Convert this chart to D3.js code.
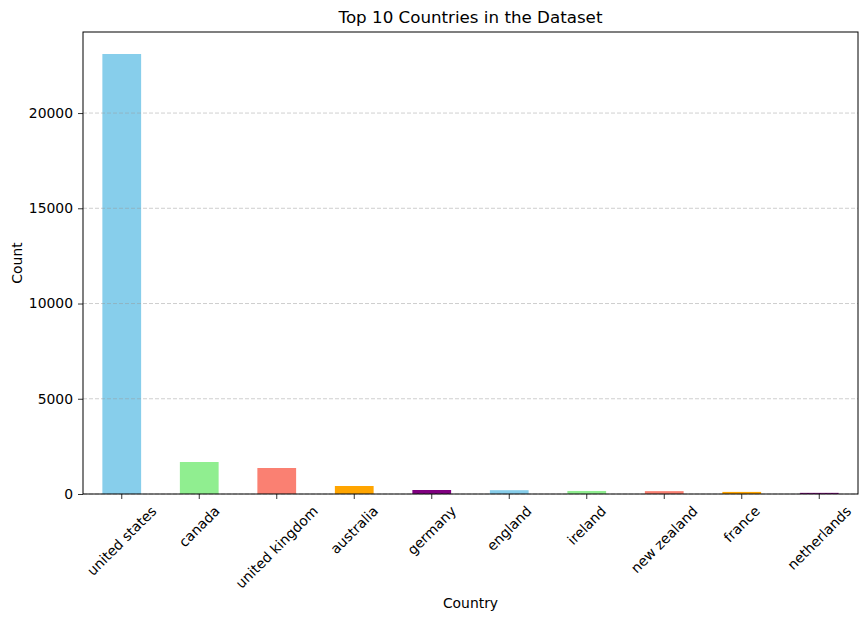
<!DOCTYPE html>
<html>
<head>
<meta charset="utf-8">
<script src="https://cdn.jsdelivr.net/npm/d3@7"></script>
<style>
  body { margin: 0; background: #fff; }
  text { font-family: "DejaVu Sans", sans-serif; fill: #000; }
</style>
</head>
<body>
<div id="chart"></div>
<script>
// data
var countries = ["united states", "canada", "united kingdom", "australia", "germany",
                 "england", "ireland", "new zealand", "france", "netherlands"];
var counts = [23100, 1680, 1365, 420, 210, 200, 160, 150, 110, 60];
var yTicks = [0, 5000, 10000, 15000, 20000];
var barColors = ["#87CEEB", "#90EE90", "#FA8072", "#FFA500", "#800080"];

var width = 868,
    height = 620,
    margin = {top: 32, right: 10, bottom: 126, left: 83};

var svg = d3.select("#chart").append("svg")
    .attr("width", width)
    .attr("height", height);

var plotW = width - margin.left - margin.right,
    plotH = height - margin.top - margin.bottom;

var g = svg.append("g")
    .attr("transform", "translate(" + margin.left + "," + margin.top + ")");

var x = d3.scaleBand()
    .domain(countries)
    .range([0, plotW])
    .paddingInner(0.5)
    .paddingOuter(0.25);

var y = d3.scaleLinear()
    .domain([0, d3.max(counts) * 1.05])
    .range([plotH, 0]);

// bars
g.selectAll(".bar")
    .data(countries)
  .enter()
    .append("rect")
    .attr("class", "bar")
    .attr("x", function(d){ return x(d); })
    .attr("width", x.bandwidth())
    .attr("y", function(d,i){ return y(counts[i]); })
    .attr("height", function(d,i){ return plotH - y(counts[i]); })
    .attr("fill", function(d,i){ return barColors[i % barColors.length]; });

// dashed grid, on top of bars like matplotlib
g.selectAll(".grid")
    .data(yTicks)
  .enter()
    .append("line")
    .attr("class", "grid")
    .attr("x1", 0)
    .attr("x2", plotW)
    .attr("y1", function(d){ return y(d); })
    .attr("y2", function(d){ return y(d); })
    .attr("stroke", "#999")
    .attr("stroke-opacity", 0.6)
    .attr("stroke-width", 0.8)
    .attr("stroke-dasharray", "4,2");

// y axis
var yAxis = g.append("g")
    .call(d3.axisLeft(y).tickValues(yTicks).tickSize(5).tickPadding(5).tickFormat(d3.format("d")));
yAxis.select(".domain").remove();
yAxis.selectAll("text").style("font-size", "13.9px").style("font-family", "DejaVu Sans");
yAxis.selectAll("line").attr("stroke", "#000").attr("stroke-width", 0.8);

// x axis
var xAxis = g.append("g")
    .attr("transform", "translate(0," + plotH + ")")
    .call(d3.axisBottom(x).tickSize(5).tickFormat(""));
xAxis.select(".domain").remove();
xAxis.selectAll("line").attr("stroke", "#000").attr("stroke-width", 0.8);

// rotated tick labels, bbox centred under the tick (matplotlib style)
var labelTop = plotH + 10;
g.selectAll(".xlabel")
    .data(countries)
  .enter()
    .append("text")
    .attr("class", "xlabel")
    .style("font-size", "13.9px")
    .attr("text-anchor", "middle")
    .attr("dy", "0.35em")
    .text(function(d){ return d; })
    .each(function(d){
        var w = this.getComputedTextLength(), h = 13;
        var half = (w + h) / (2 * Math.SQRT2);
        var cx = x(d) + x.bandwidth() / 2, cy = labelTop + half;
        d3.select(this)
            .attr("x", cx).attr("y", cy)
            .attr("transform", "rotate(-45," + cx + "," + cy + ")");
    });

// frame
g.append("rect")
    .attr("width", plotW)
    .attr("height", plotH)
    .attr("fill", "none")
    .attr("stroke", "#000")
    .attr("stroke-width", 1);

// title & axis labels
svg.append("text")
    .attr("x", margin.left + plotW / 2)
    .attr("y", 23)
    .attr("text-anchor", "middle")
    .style("font-size", "16.7px")
    .text("Top 10 Countries in the Dataset");

svg.append("text")
    .attr("x", margin.left + plotW / 2)
    .attr("y", 608)
    .attr("text-anchor", "middle")
    .style("font-size", "13.9px")
    .text("Country");

svg.append("text")
    .attr("transform", "translate(22," + (margin.top + plotH / 2) + ") rotate(-90)")
    .attr("text-anchor", "middle")
    .style("font-size", "13.9px")
    .text("Count");
</script>
</body>
</html>
